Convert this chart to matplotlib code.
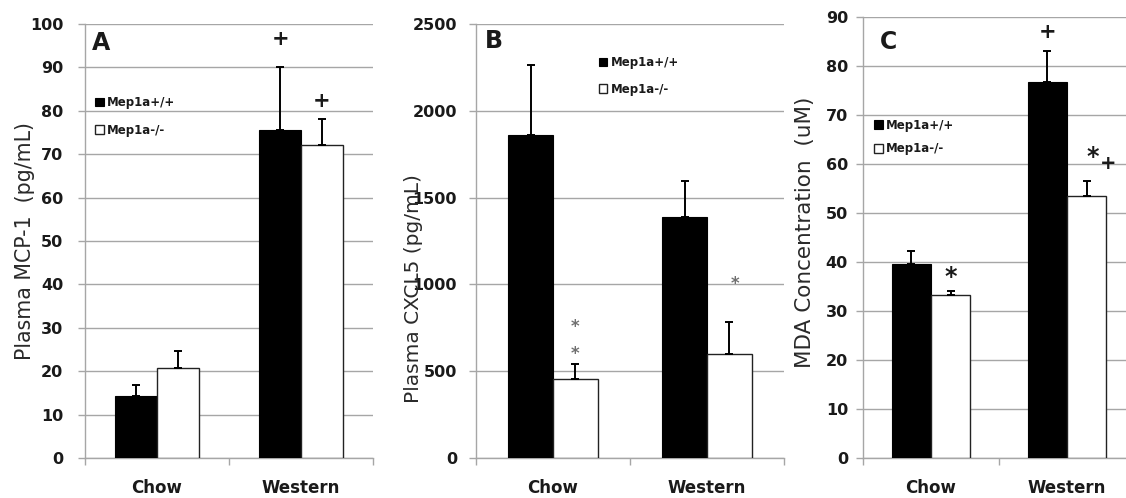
import matplotlib
matplotlib.use("Agg")
import matplotlib.pyplot as plt
import numpy as np

# --- DATA ---
diets = ["Chow", "Western"]
groups = ["Mep1a+/+", "Mep1a-/-"]

mcp1_wt = [14.2, 75.6]
mcp1_wt_err = [2.6, 14.4]
mcp1_ko = [20.7, 72.1]
mcp1_ko_err = [4.0, 6.0]

cxcl5_wt = [1858, 1387]
cxcl5_wt_err = [406, 208]
cxcl5_ko = [457, 601]
cxcl5_ko_err = [87, 181]

mda_wt = [39.5, 76.7]
mda_wt_err = [2.7, 6.4]
mda_ko = [33.3, 53.4]
mda_ko_err = [0.7, 3.1]

# --- SETTINGS ---
W, H = 1126, 498
BAR_W = 0.29
GRID = "#a6a6a6"
TXT = "#1a1a1a"

plt.rcParams["font.family"] = ["DejaVu Sans"]

fig = plt.figure(figsize=(W / 100, H / 100), dpi=100)


def px_axes(left, right, top, bottom):
    return fig.add_axes([left / W, (H - bottom) / H, (right - left) / W, (bottom - top) / H])


def panel(ax, wt, wt_err, ko, ko_err, ymax, ystep, letter, letter_pos, ylabel, ylabel_pos,
          ylabel_size, tick_pad, leg_pos, leg_sp):
    x = np.arange(len(diets))
    b1 = ax.bar(x - BAR_W / 2, wt, BAR_W, color="black", edgecolor="black", lw=0.8, zorder=3, label=groups[0])
    b2 = ax.bar(x + BAR_W / 2, ko, BAR_W, color="white", edgecolor="#222222", lw=1.0, zorder=3, label=groups[1])
    ax.errorbar(x - BAR_W / 2, wt, yerr=[np.zeros(len(wt)), wt_err], fmt="none",
                ecolor="black", elinewidth=1.4, capsize=2.8, capthick=1.4, zorder=4)
    ax.errorbar(x + BAR_W / 2, ko, yerr=[np.zeros(len(ko)), ko_err], fmt="none",
                ecolor="black", elinewidth=1.4, capsize=2.8, capthick=1.4, zorder=4)

    ax.set_xlim(-0.5, 1.5)
    ax.set_ylim(0, ymax)
    ax.set_yticks(np.arange(0, ymax + ystep / 2, ystep))
    ax.yaxis.grid(True, color=GRID, lw=1.0, zorder=0)
    ax.set_axisbelow(True)

    ax.set_xticks(x)
    ax.set_xticklabels(diets, fontsize=12, fontweight="bold", color=TXT)
    ax.set_xticks([-0.5, 0.5, 1.5], minor=True)
    ax.tick_params(axis="x", which="major", length=0, pad=15)
    ax.tick_params(axis="x", which="minor", length=5, color=GRID, width=1)
    ax.tick_params(axis="y", length=5, color=GRID, width=1, labelsize=11.5, labelcolor=TXT, pad=tick_pad)
    for lab in ax.get_yticklabels():
        lab.set_fontweight("bold")

    for s in ("top", "right"):
        ax.spines[s].set_visible(False)
    for s in ("left", "bottom"):
        ax.spines[s].set_color(GRID)
        ax.spines[s].set_linewidth(1.0)

    ax.set_ylabel(ylabel, fontsize=ylabel_size, color="#2a2a2a")
    ax.yaxis.set_label_coords(*ylabel_pos)

    ax.text(letter_pos[0], letter_pos[1], letter, transform=ax.transAxes, fontsize=17,
            fontweight="bold", color=TXT, ha="left", va="center")

    leg = ax.legend(handles=[b1, b2], loc="upper left", bbox_to_anchor=leg_pos, frameon=False,
                    borderpad=0, borderaxespad=0, handlelength=0.75, handleheight=0.75,
                    handletextpad=0.25, labelspacing=leg_sp,
                    prop={"size": 8.5, "weight": "bold"})
    for t in leg.get_texts():
        t.set_color(TXT)
    return x


# --- PANEL A ---
axA = px_axes(85, 373, 24, 458)
xa = panel(axA, mcp1_wt, mcp1_wt_err, mcp1_ko, mcp1_ko_err, 100, 10, "A", (0.025, 0.956),
           "Plasma MCP-1  (pg/mL)", (-0.174, 0.5), 14.8, 10.5, (0.036, 0.834), 1.25)
axA.text(xa[1] - BAR_W / 2, 96.5, "+", ha="center", va="center", fontsize=15, fontweight="bold", color=TXT)
axA.text(xa[1] + BAR_W / 2, 82.3, "+", ha="center", va="center", fontsize=15, fontweight="bold", color=TXT)

# --- PANEL B ---
axB = px_axes(476, 784, 24, 458)
xb = panel(axB, cxcl5_wt, cxcl5_wt_err, cxcl5_ko, cxcl5_ko_err, 2500, 500, "B", (0.03, 0.961),
           "Plasma CXCL5 (pg/mL)", (-0.172, 0.39), 14.5, 8.6, (0.398, 0.926), 1.15)
for yv in (599, 755):
    axB.text(xb[0] + BAR_W / 2, yv, "*", ha="center", va="center", fontsize=12, fontweight="bold", color="#707070")
axB.text(xb[1] + 0.18, 1002, "*", ha="center", va="center", fontsize=12, fontweight="bold", color="#707070")

# --- PANEL C ---
axC = px_axes(863, 1135, 17, 458)
xc = panel(axC, mda_wt, mda_wt_err, mda_ko, mda_ko_err, 90, 10, "C", (0.0625, 0.943),
           "MDA Concentration  (uM)", (-0.176, 0.512), 15.5, 5.8, (0.042, 0.769), 0.9)
axC.text(xc[1] - BAR_W / 2, 86.9, "+", ha="center", va="center", fontsize=15, fontweight="bold", color=TXT)
axC.text(xc[0] + BAR_W / 2, 36.9, "*", ha="center", va="center", fontsize=17, fontweight="bold", color=TXT)
axC.text(xc[1] + 0.19, 61.4, "*", ha="center", va="center", fontsize=17, fontweight="bold", color=TXT)
axC.text(xc[1] + 0.30, 60.2, "+", ha="center", va="center", fontsize=14, fontweight="bold", color=TXT)

fig.savefig("out.png", dpi=100)
